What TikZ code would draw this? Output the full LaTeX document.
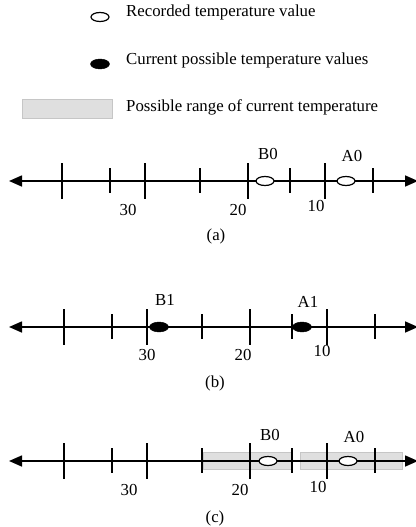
\documentclass[tikz,border=0pt]{standalone}
\usepackage{fontspec}
\setmainfont{Liberation Serif}
\usetikzlibrary{arrows.meta,positioning,shapes.geometric}

\begin{document}
\begin{tikzpicture}[x=1pt, y=-1pt,
    txt/.style={font=\fontsize{16.8}{19}\selectfont, inner sep=0pt},
    numaxis/.style={line width=1.6pt, {Triangle[length=13pt,width=11pt]}-{Triangle[length=13pt,width=11pt]}},
    tickline/.style={line width=1.3pt},
    rec/.style={ellipse, draw, line width=1.2pt, fill=white, minimum width=18pt,
                minimum height=9pt, inner sep=0pt},
    cur/.style={ellipse, draw, fill=black, minimum width=19pt,
                minimum height=10pt, inner sep=0pt},
    rangebox/.style={draw=gray!45, fill=gray!25, line width=0.8pt}]

\useasboundingbox (0,0) rectangle (415,527);

% legend
\node[rec] (legrec) at (100,17) {};
\node[txt, anchor=west] (legrectxt) at (126,12) {Recorded temperature value};
\node[cur] (legcur) at (100,64) {};
\node[txt, anchor=west] (legcurtxt) at (126,60) {Current possible temperature values};
\draw[rangebox] (22,99) rectangle (112,118);
\node[txt, anchor=west] (legrangetxt) at (126,107) {Possible range of current temperature};

% ranges of (c), behind the axis
\draw[rangebox] (203,452) rectangle (292,469);
\draw[rangebox] (300,452) rectangle (402,469);

% axes with ticks
\foreach \row/\y/\dx in {a/181/-2, b/327/0, c/461/0} {
  \coordinate (\row L) at (9,\y);
  \coordinate (\row R) at (418,\y);
  \draw[numaxis] (\row L) -- (\row R);
  \foreach \x/\up/\dn in {64/18/18, 112/13/12, 147/18/18, 202/13/12,
                          250/18/18, 292/13/12, 327/18/18, 375/13/12} {
    \draw[tickline] (\x+\dx,\y-\up) -- (\x+\dx,\y+\dn);
  }
}

% (a)
\node[rec] (recB0a) at (265,181) {};
\node[rec] (recA0a) at (346,181) {};
\node[txt] (B0a) at (268,154) {B0};
\node[txt] (A0a) at (352,156) {A0};
\node[txt] (t30a) at (128,210) {30};
\node[txt] (t20a) at (238,210) {20};
\node[txt] (t10a) at (316,206) {10};
\node[txt] (capa) at (216,236) {(a)};

% (b)
\node[cur] (curB1) at (159,327) {};
\node[cur] (curA1) at (302,327) {};
\node[txt] (B1) at (165,300) {B1};
\node[txt] (A1) at (308,302) {A1};
\node[txt] (t30b) at (147,355) {30};
\node[txt] (t20b) at (243,355) {20};
\node[txt] (t10b) at (322,351) {10};
\node[txt] (capb) at (215,383) {(b)};

% (c)
\node[rec] (recB0c) at (268,461) {};
\node[rec] (recA0c) at (348,461) {};
\node[txt] (B0c) at (270,435) {B0};
\node[txt] (A0c) at (354,437) {A0};
\node[txt] (t30c) at (129,490) {30};
\node[txt] (t20c) at (240,490) {20};
\node[txt] (t10c) at (318,487) {10};
\node[txt] (capc) at (215,518) {(c)};
\end{tikzpicture}
\end{document}
